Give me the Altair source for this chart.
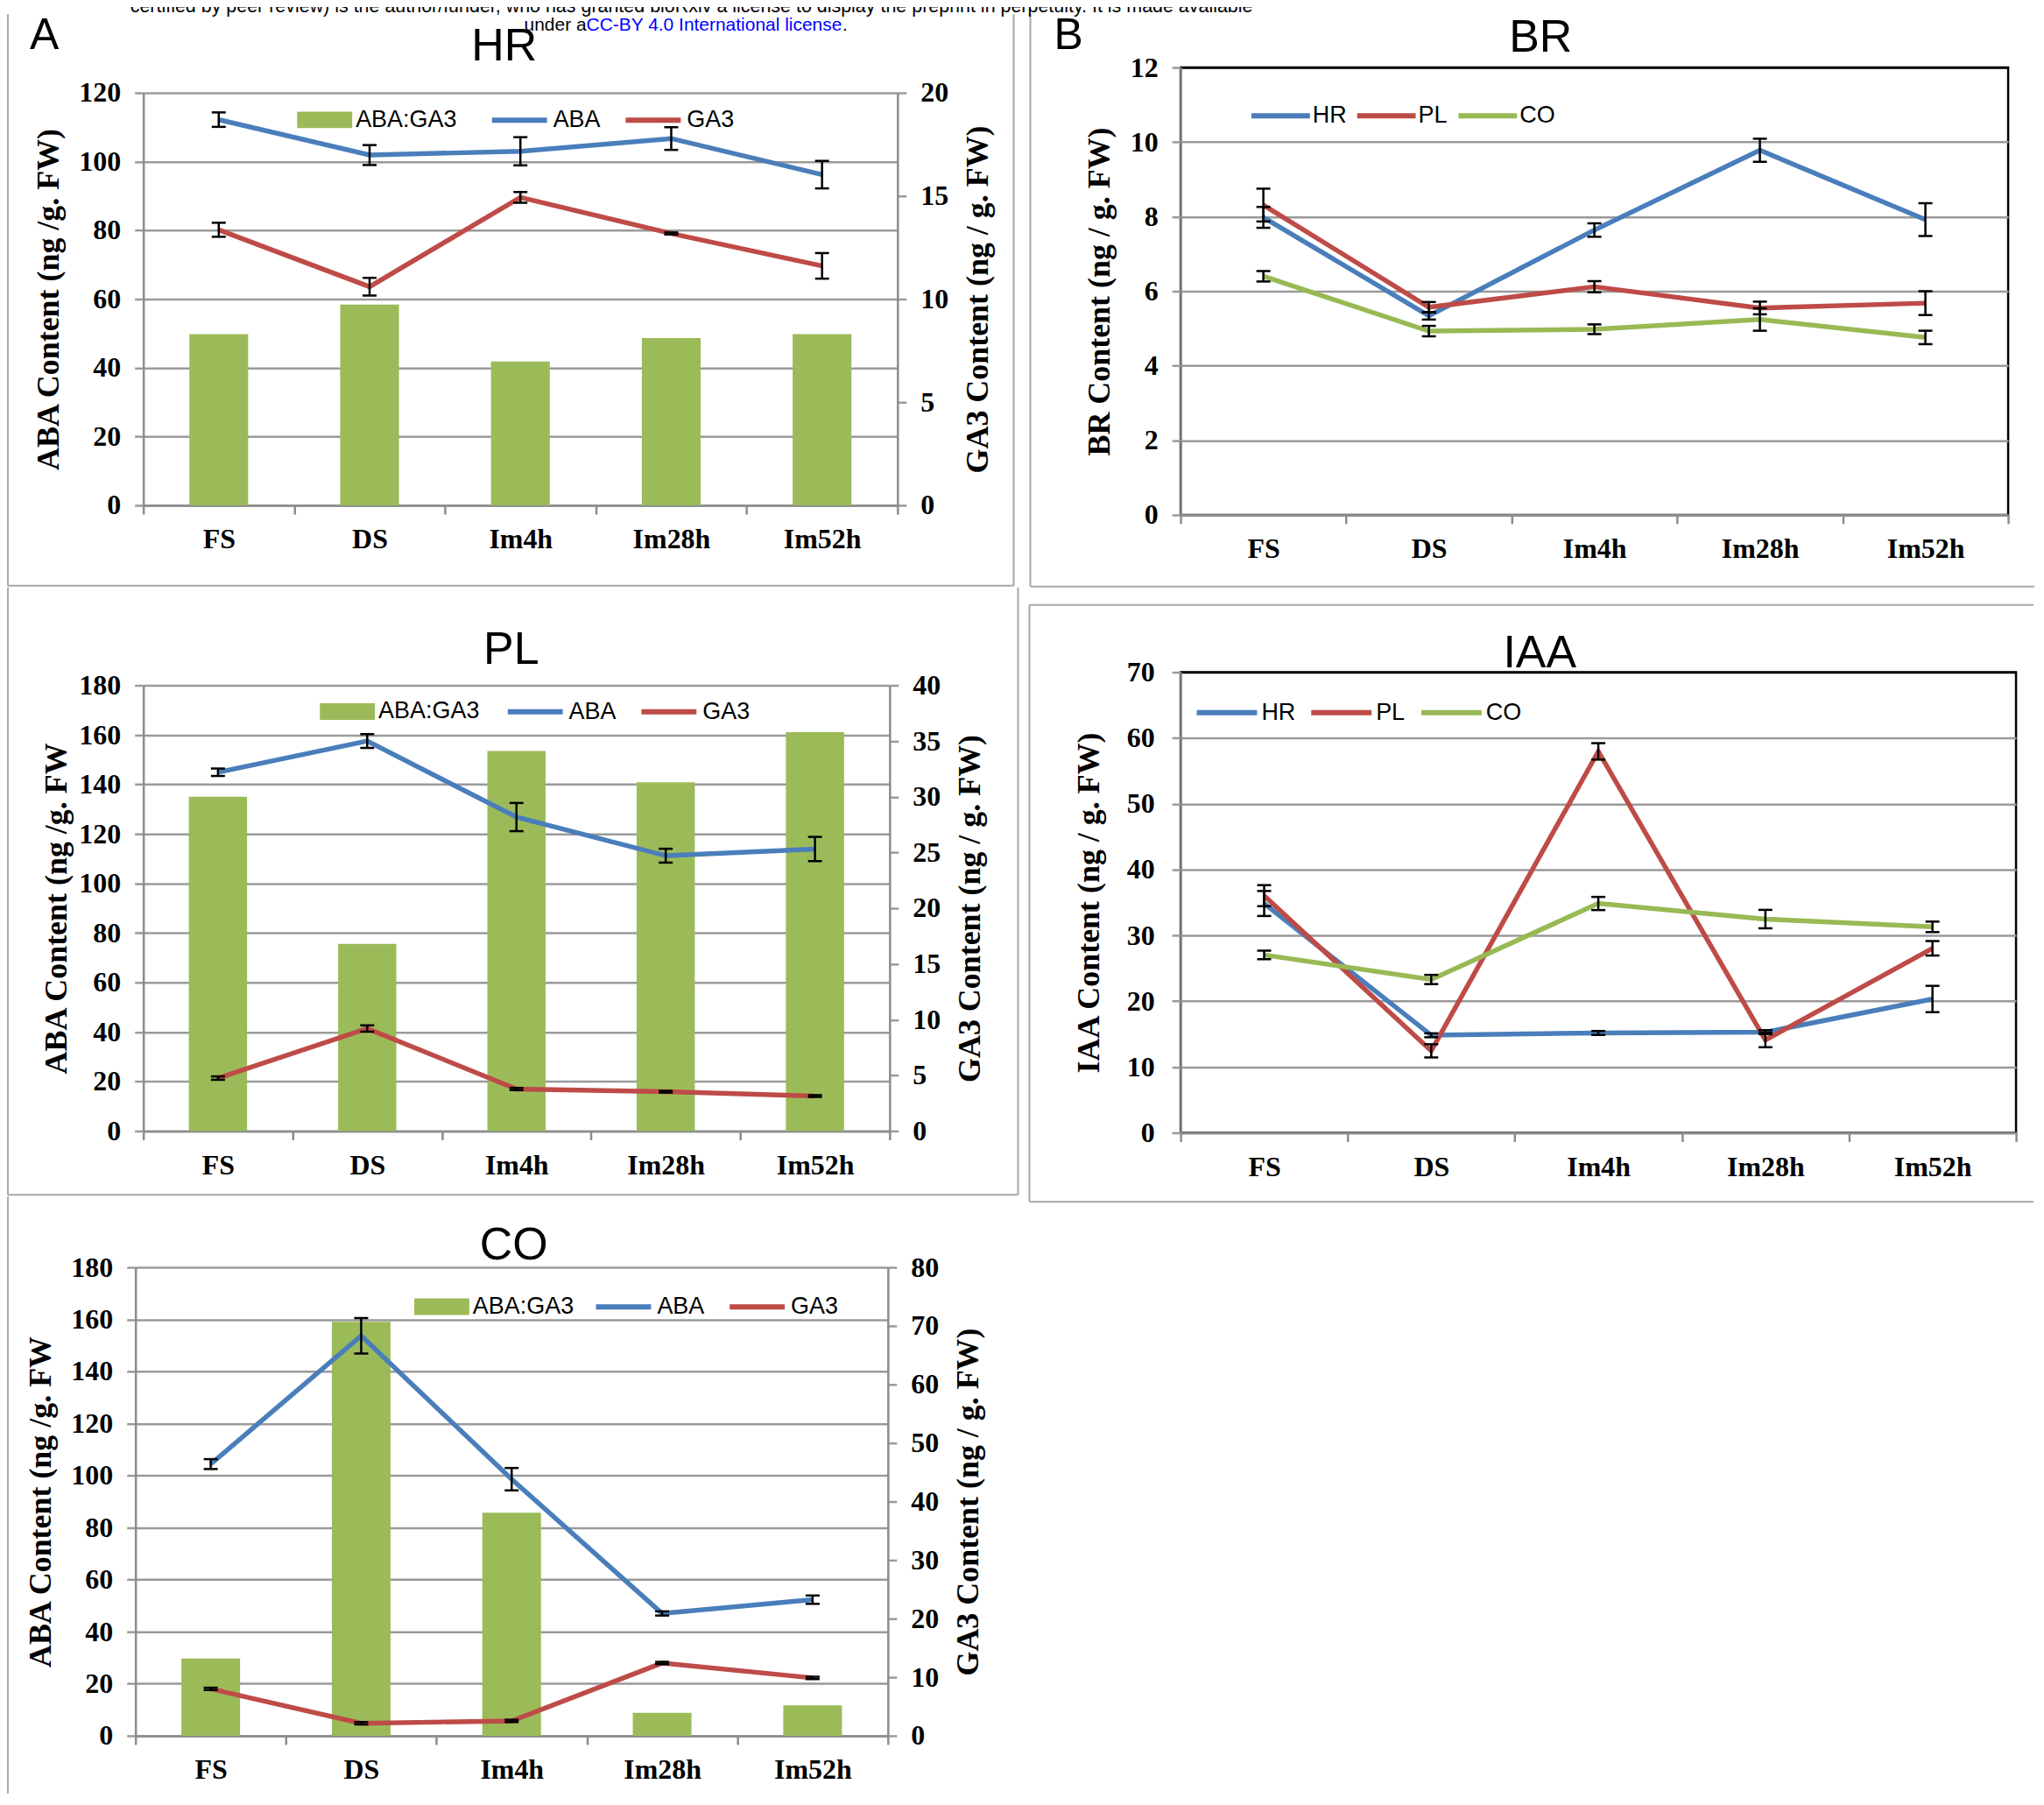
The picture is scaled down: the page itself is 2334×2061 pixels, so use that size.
import altair as alt
import pandas as pd

# ---------------- data ----------------
cats = ["FS", "DS", "Im4h", "Im28h", "Im52h"]

hr_aba = [112.2, 101.9, 103.0, 106.7, 96.2]
hr_aba_err = [2.1, 2.9, 4.1, 3.3, 4.0]
hr_ga3 = [13.36, 10.60, 14.93, 13.18, 11.61]
hr_ga3_err = [0.34, 0.43, 0.26, 0.05, 0.62]
hr_ratio = [8.30, 9.73, 6.97, 8.11, 8.30]

pl_aba = [144.9, 157.5, 126.8, 111.2, 113.9]
pl_aba_err = [1.5, 2.8, 5.7, 2.8, 4.9]
pl_ga3 = [4.75, 9.20, 3.77, 3.53, 3.14]
pl_ga3_err = [0.15, 0.28, 0.10, 0.08, 0.08]
pl_ratio = [30.0, 16.8, 34.1, 31.3, 35.8]

co_aba = [104.4, 153.7, 98.6, 47.0, 52.3]
co_aba_err = [1.9, 6.8, 4.3, 0.8, 1.6]
co_ga3 = [8.01, 2.14, 2.54, 12.42, 9.88]
co_ga3_err = [0.2, 0.2, 0.2, 0.2, 0.2]
co_ratio = [13.2, 70.7, 38.1, 3.9, 5.2]

tissues = ["HR", "PL", "CO"]
br_hr = [7.98, 5.34, 7.64, 9.78, 7.92]
br_hr_err = [0.28, 0.10, 0.18, 0.31, 0.44]
br_pl = [8.31, 5.57, 6.12, 5.55, 5.68]
br_pl_err = [0.44, 0.14, 0.15, 0.17, 0.32]
br_co = [6.40, 4.93, 4.98, 5.24, 4.76]
br_co_err = [0.14, 0.14, 0.13, 0.30, 0.18]

iaa_hr = [34.85, 14.82, 15.17, 15.29, 20.33]
iaa_hr_err = [1.9, 0.3, 0.3, 0.3, 2.0]
iaa_pl = [36.04, 12.45, 57.97, 14.10, 28.04]
iaa_pl_err = [1.6, 1.0, 1.25, 1.1, 1.1]
iaa_co = [27.03, 23.30, 34.85, 32.48, 31.30]
iaa_co_err = [0.65, 0.7, 1.0, 1.4, 0.8]

note_line1 = ("certified by peer review) is the author/funder, who has granted bioRxiv a "
              "license to display the preprint in perpetuity. It is made available")
note_line2a = "under a"
note_line2b = "CC-BY 4.0 International license"
note_line2c = "."

# ---------------- style ----------------
SERIF = "Liberation Serif"
SANS = "Liberation Sans"
GRID = "#9a9a9a"
AXIS = "#8c8c8c"
BORDER = "#a8a8a8"
BLUE = "#4a7ebb"
RED = "#be4b48"
GREEN = "#9bbb59"
GREEN_LINE = "#98b954"
TITLE_SIZE = 52
LINE_W = 5.5

one = pd.DataFrame({"k": [0]})


def rule(x1, y1, x2, y2, color=BORDER, w=2):
    return alt.Chart(one).mark_rule(color=color, strokeWidth=w).encode(
        x=alt.value(x1), x2=alt.value(x2), y=alt.value(y1), y2=alt.value(y2))


def label(text, x, y, size, color="black", align="center", font=SANS, weight="normal"):
    return alt.Chart(one).mark_text(
        text=text, align=align, baseline="alphabetic", font=font, fontSize=size,
        fontWeight=weight, color=color).encode(x=alt.value(x), y=alt.value(y))


def xenc(xrange=None):
    sc = dict(type="band", domain=cats, paddingInner=0, paddingOuter=0)
    if xrange is not None:
        sc["range"] = xrange
    return alt.X(
        "cat:N", sort=cats, scale=alt.Scale(**sc),
        axis=alt.Axis(title=None, labelAngle=0, labelFont=SERIF, labelFontSize=32,
                      labelFontWeight="bold", labelColor="black", labelPadding=14,
                      labelOverlap=False, tickBand="extent", tickSize=10, tickWidth=2.5,
                      tickColor=AXIS, domainColor=AXIS, domainWidth=2.5, grid=False))


def yaxis(orient, values, title, title_x, title_y, grid, label_pad=16, grid_top=None, offset=0):
    kw = dict(orient=orient, values=values, title=title, titleX=title_x, titleY=title_y,
              titleAngle=270, titleAlign="center", titleBaseline="middle",
              titleFont=SERIF, titleFontSize=36, titleFontWeight="bold", titleColor="black",
              labelFont=SERIF, labelFontSize=32, labelFontWeight="bold", labelColor="black",
              labelPadding=label_pad, labelOverlap=False, labelFlush=False,
              tickSize=10, tickWidth=2.5, tickColor=GRID,
              domainColor=AXIS, domainWidth=2.5, grid=grid, offset=offset)
    if grid:
        kw["gridWidth"] = 2.5
        if grid_top is None:
            kw["gridColor"] = GRID
        else:
            kw["gridColor"] = {"condition": {"test": f"datum.value >= {grid_top}", "value": "black"},
                               "value": GRID}
    return alt.Axis(**kw)


def err_layers(df, X, field_scale, axis):
    r = alt.Chart(df).mark_rule(color="black", strokeWidth=2.5).encode(
        x=X, y=alt.Y("lo:Q", scale=field_scale, axis=axis), y2="hi:Q")
    lo = alt.Chart(df).mark_tick(color="black", size=16, thickness=2.5, opacity=1).encode(
        x=X, y=alt.Y("lo:Q", scale=field_scale, axis=axis))
    hi = alt.Chart(df).mark_tick(color="black", size=16, thickness=2.5, opacity=1).encode(
        x=X, y=alt.Y("hi:Q", scale=field_scale, axis=axis))
    return [r, lo, hi]


def series_df(vals, errs, name):
    return pd.DataFrame({"cat": cats, "v": vals,
                         "lo": [v - e for v, e in zip(vals, errs)],
                         "hi": [v + e for v, e in zip(vals, errs)],
                         "series": name})


def dual_panel(w, h, aba, aba_err, ga3, ga3_err, ratio, lmax, lstep, rmax, rstep,
               ltitle, ltx, rtx, fill_x, line_x, leg_cy, before, after, top=0, left=0):
    X = xenc([-left, w] if left else None)
    d_aba = series_df(aba, aba_err, "ABA")
    d_ga3 = series_df(ga3, ga3_err, "GA3")
    d_bar = pd.DataFrame({"cat": cats, "v": ratio, "kind": "ABA:GA3"})
    H = h + top
    lax = yaxis("left", list(range(0, lmax + 1, lstep)), ltitle, ltx, top + h / 2, True,
                offset=left)
    rax = yaxis("right", list(range(0, rmax + 1, rstep)), "GA3 Content (ng / g. FW)", rtx,
                top + h / 2, False)
    lsc = alt.Scale(domain=[0, lmax], nice=False, zero=True, range=[H, top])
    rsc = alt.Scale(domain=[0, rmax], nice=False, zero=True, range=[H, top])
    stroke = alt.Stroke(
        "series:N", scale=alt.Scale(domain=["ABA", "GA3"], range=[BLUE, RED]),
        legend=alt.Legend(orient="none", legendX=line_x, legendY=leg_cy - 34.5,
                          direction="horizontal", columns=2, title=None, symbolType="stroke",
                          symbolSize=3969, symbolStrokeWidth=6, labelFont=SANS,
                          labelFontSize=27, labelColor="black", labelOffset=4,
                          columnPadding=16, padding=0))
    fill = alt.Fill(
        "kind:N", scale=alt.Scale(domain=["ABA:GA3"], range=[GREEN]),
        legend=alt.Legend(orient="none", legendX=fill_x, legendY=leg_cy - 31.5,
                          direction="horizontal", title=None,
                          symbolType="M-1,-0.3H1V0.3H-1Z", symbolSize=3969,
                          symbolStrokeWidth=0, symbolOpacity=1, labelFont=SANS,
                          labelFontSize=27, labelColor="black", labelOffset=4, padding=0))
    bars = alt.Chart(d_bar).mark_bar(width=alt.RelativeBandSize(0.39)).encode(
        x=X, y=alt.Y("v:Q", scale=rsc, axis=rax), fill=fill)
    ga3_line = alt.Chart(d_ga3).mark_line(strokeWidth=LINE_W).encode(
        x=X, y=alt.Y("v:Q", scale=rsc, axis=rax), stroke=stroke)
    aba_line = alt.Chart(d_aba).mark_line(strokeWidth=LINE_W).encode(
        x=X, y=alt.Y("v:Q", scale=lsc, axis=lax), stroke=stroke)
    right = alt.layer(bars, ga3_line, *err_layers(d_ga3, X, rsc, rax))
    left_l = alt.layer(aba_line, *err_layers(d_aba, X, lsc, lax))
    return alt.layer(*before, right, left_l, *after).resolve_scale(y="independent").properties(
        width=w, height=H)


def single_panel(w, h, vals, errs, ymax, ystep, ytitle, ytx, leg_x, leg_cy, sym_len,
                 label_pad, col_pad, lab_off, before, after):
    X = xenc()
    df = pd.concat([series_df(v, e, s) for v, e, s in zip(vals, errs, tissues)],
                   ignore_index=True)
    yax = yaxis("left", list(range(0, ymax + 1, ystep)), ytitle, ytx, h / 2, True,
                label_pad, grid_top=ymax)
    ysc = alt.Scale(domain=[0, ymax], nice=False, zero=True)
    lines = alt.Chart(df).mark_line(strokeWidth=LINE_W).encode(
        x=X, y=alt.Y("v:Q", scale=ysc, axis=yax),
        stroke=alt.Stroke(
            "series:N", scale=alt.Scale(domain=tissues, range=[BLUE, RED, GREEN_LINE]),
            legend=alt.Legend(orient="none", legendX=leg_x,
                              legendY=leg_cy - (sym_len + 6) / 2,
                              direction="horizontal", columns=3, title=None,
                              symbolType="stroke", symbolSize=sym_len ** 2,
                              symbolStrokeWidth=6, labelFont=SANS, labelFontSize=27,
                              labelColor="black", labelOffset=lab_off, columnPadding=col_pad,
                              padding=0)))
    return alt.layer(*before, lines, *err_layers(df, X, ysc, yax), *after).properties(
        width=w, height=h, view=alt.ViewBackground(stroke="black", strokeWidth=2.5))


# ---------------- panels ----------------
hr = dual_panel(
    863, 472, hr_aba, hr_aba_err, hr_ga3, hr_ga3_err, hr_ratio, 120, 20, 20, 5,
    "ABA Content (ng /g. FW)", -108, 92, 176, 396, 60,
    before=[rule(-155, -61, -155, 593), rule(-155, 593, 996, 593), rule(996, -61, 996, 593)],
    after=[label("HR", 413, -8, TITLE_SIZE), label("A", -130, -21, 50, align="left"),
           label(note_line2a, 507, -42, 21, align="right"),
           label(note_line2b, 507, -42, 21, color="#0000ff", align="left"),
           label(note_line2c, 800, -42, 21, align="left")],
    top=29)

pl = dual_panel(
    854, 510, pl_aba, pl_aba_err, pl_ga3, pl_ga3_err, pl_ratio, 180, 20, 40, 5,
    "ABA Content (ng /g. FW", -99, 92, 202, 414, 30,
    before=[rule(-155, -112, -155, 583), rule(-155, 583, 1001, 583), rule(1001, -112, 1001, 583)],
    after=[label("PL", 421, -25, TITLE_SIZE)])

co = dual_panel(
    852, 536, co_aba, co_aba_err, co_ga3, co_ga3_err, co_ratio, 180, 20, 80, 10,
    "ABA Content (ng /g. FW", -108, 92, 310, 515, 45,
    before=[rule(-155, -81, -155, 602)],
    after=[label("CO", 424, -9.5, TITLE_SIZE)],
    left=9)

br = single_panel(
    947, 512, [br_hr, br_pl, br_co], [br_hr_err, br_pl_err, br_co_err], 12, 2,
    "BR Content (ng / g. FW)", -93, 78, 55, 67, 16, 0, 0,
    before=[rule(-172, -61, -172, 594), rule(-172, 594, 977, 594)],
    after=[label("BR", 412, -17.6, TITLE_SIZE), label("B", -145, -21, 50, align="left")])

iaa = single_panel(
    956, 527, [iaa_hr, iaa_pl, iaa_co], [iaa_hr_err, iaa_pl_err, iaa_co_err], 70, 10,
    "IAA Content (ng / g. FW)", -105, 15.5, 46, 69, 20, 6, 2,
    before=[rule(-173, -77, 976, -77), rule(-173, -77, -173, 606), rule(-173, 606, 976, 606)],
    after=[label("IAA", 411, -5.4, TITLE_SIZE)])

RES = dict(x="independent", y="independent", stroke="independent", fill="independent")
LRES = dict(stroke="independent", fill="independent")

left_col = alt.vconcat(hr, pl, co, spacing=0).resolve_scale(**RES).resolve_legend(**LRES)
right_col = alt.vconcat(br, iaa, spacing=15).resolve_scale(**RES).resolve_legend(**LRES)

chart = alt.hconcat(left_col, right_col, spacing=9).resolve_scale(**RES).resolve_legend(
    **LRES).properties(
    title=alt.TitleParams(text=note_line1, anchor="start", frame="group", dx=-15, offset=-5,
                          font=SANS, fontSize=21.5, fontWeight="normal", color="black"),
    padding={"left": 0, "top": -13, "right": 0, "bottom": 0},
    background="white",
).configure_view(stroke=None)

chart.save("out.html", embed_options={"renderer": "svg", "actions": False})
